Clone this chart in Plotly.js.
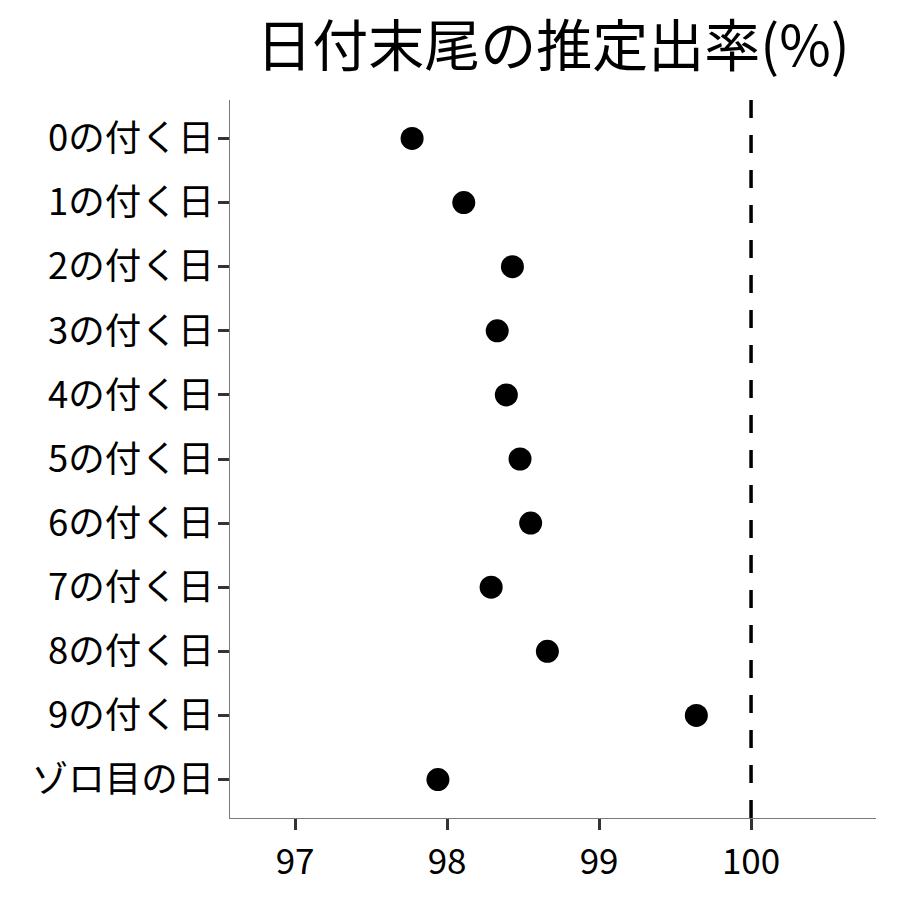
<!DOCTYPE html>
<html>
<head>
<meta charset="utf-8">
<script src="https://cdn.plot.ly/plotly-3.0.1.min.js"></script>
<style>
  html, body { margin: 0; padding: 0; background: #fff; }
  #chart { width: 900px; height: 900px; }
</style>
</head>
<body>
<div id="chart"></div>
<script>
// dot plot of estimated birth ratio by day-of-month ending

var categories = ['0の付く日', '1の付く日', '2の付く日', '3の付く日', '4の付く日',
                  '5の付く日', '6の付く日', '7の付く日', '8の付く日', '9の付く日', 'ゾロ目の日'];
var ratio = [97.77, 98.11, 98.43, 98.33, 98.39, 98.48, 98.55, 98.29, 98.66, 99.64, 97.94];
var xTicks = [97, 98, 99, 100];
var refValue = 100;

var font = '"Noto Sans CJK JP", "Noto Sans", sans-serif';

var trace = {
    x: ratio,
    y: categories,
    type: 'scatter',
    mode: 'markers',
    marker: {color: '#000000', size: 23},
    hoverinfo: 'x+y'
};

var layout = {
    width: 900,
    height: 900,
    showlegend: false,
    paper_bgcolor: '#ffffff',
    plot_bgcolor: '#ffffff',
    font: {family: font, color: '#000000'},
    margin: {l: 230, r: 24, t: 100, b: 82, pad: 0},
    title: {
        text: '日付末尾の推定出率(%)',
        font: {family: font, size: 56, color: '#000000'},
        x: 0.5,
        xref: 'paper',
        xanchor: 'center',
        y: 0.948,
        yref: 'container',
        yanchor: 'middle'
    },
    xaxis: {
        range: [96.572, 100.822],
        tickmode: 'array',
        tickvals: xTicks,
        ticktext: xTicks.map(String),
        ticks: 'outside',
        ticklen: 11,
        tickwidth: 3,
        tickcolor: '#333333',
        ticklabelstandoff: 2,
        tickfont: {family: font, size: 35, color: '#000000'},
        showline: true,
        linecolor: '#7a7a7a',
        linewidth: 1.4,
        showgrid: false,
        zeroline: false
    },
    yaxis: {
        type: 'category',
        range: [10.6, -0.6],
        ticks: 'outside',
        ticklen: 11,
        tickwidth: 3,
        tickcolor: '#333333',
        ticklabelstandoff: -4,
        tickfont: {family: font, size: 36.5, color: '#000000'},
        showline: true,
        linecolor: '#7a7a7a',
        linewidth: 1.4,
        showgrid: false,
        zeroline: false
    },
    shapes: [{
        type: 'line',
        xref: 'x',
        yref: 'paper',
        x0: refValue,
        x1: refValue,
        y0: 0,
        y1: 1,
        line: {color: '#000000', width: 3.5, dash: '18px,17px'}
    }]
};

Plotly.newPlot('chart', [trace], layout, {displayModeBar: false, staticPlot: true});
</script>
</body>
</html>
